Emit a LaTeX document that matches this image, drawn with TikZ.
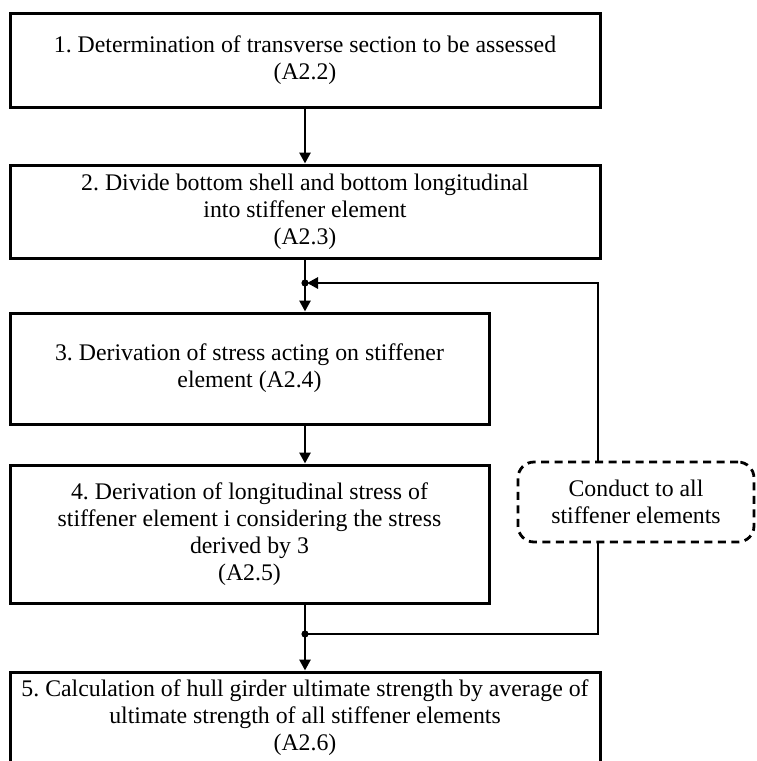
\documentclass[tikz,border=0pt]{standalone}
\usepackage{fontspec}
\setmainfont{Liberation Serif}
\usetikzlibrary{arrows.meta}
\begin{document}
\frenchspacing
\begin{tikzpicture}[x=1pt,y=-1pt,
  box/.style={draw,line width=3pt,inner sep=0pt,align=center,
    font=\fontsize{23.8}{27}\selectfont},
  loopbox/.style={draw,dashed,dash pattern=on 8pt off 5.5pt,line width=2.8pt,
    rounded corners=16pt,inner sep=0pt,align=center,
    font=\fontsize{23.8}{27}\selectfont},
  conn/.style={line width=2.8pt},
  arr/.style={conn,-{Triangle[length=11pt,width=11pt]}}]
\clip (0,0) rectangle (756,761);
\fill[white] (0,0) rectangle (756,761);
\node[box,minimum width=590pt,minimum height=94pt] (b1) at (305,60)
  {1. Determination of transverse section to be assessed\\(A2.2)};
\node[box,minimum width=590pt,minimum height=93pt] (b2) at (305,211.5)
  {2. Divide bottom shell and bottom longitudinal\\into stiffener element\\(A2.3)};
\node[box,minimum width=479pt,minimum height=111pt] (b3) at (249.5,368.5)
  {3. Derivation of stress acting on stiffener\\element (A2.4)};
\node[box,minimum width=479pt,minimum height=138pt] (b4) at (249.5,534)
  {4. Derivation of longitudinal stress of\\stiffener element i considering the stress\\derived by 3\\(A2.5)};
\node[box,minimum width=590pt,minimum height=92pt] (b5) at (305,718)
  {5. Calculation of hull girder ultimate strength by average of\\ultimate strength of all stiffener elements\\(A2.6)};
\node[loopbox,minimum width=236pt,minimum height=80pt] (lp) at (636,502)
  {Conduct to all\\stiffener elements};
\coordinate (j1) at (305,283);
\coordinate (j2) at (305,634);
\coordinate (c1) at (598,283);
\coordinate (c2) at (598,634);
\draw[arr] (b1.south) -- (b2.north);
\draw[conn] (b2.south) -- (j1);
\draw[arr] (j1) -- (j1 |- b3.north);
\draw[arr] (j1 |- b3.south) -- (j1 |- b4.north);
\draw[conn] (j1 |- b4.south) -- (j2);
\draw[arr] (j2) -- (b5.north);
\draw[arr,shorten >=2pt] (c1 |- lp.north) -- (c1) -- (j1);
\draw[conn] (j2) -- (c2) -- (c2 |- lp.south);
\fill (j1) circle (3.6pt);
\fill (j2) circle (3.6pt);
\end{tikzpicture}
\end{document}
